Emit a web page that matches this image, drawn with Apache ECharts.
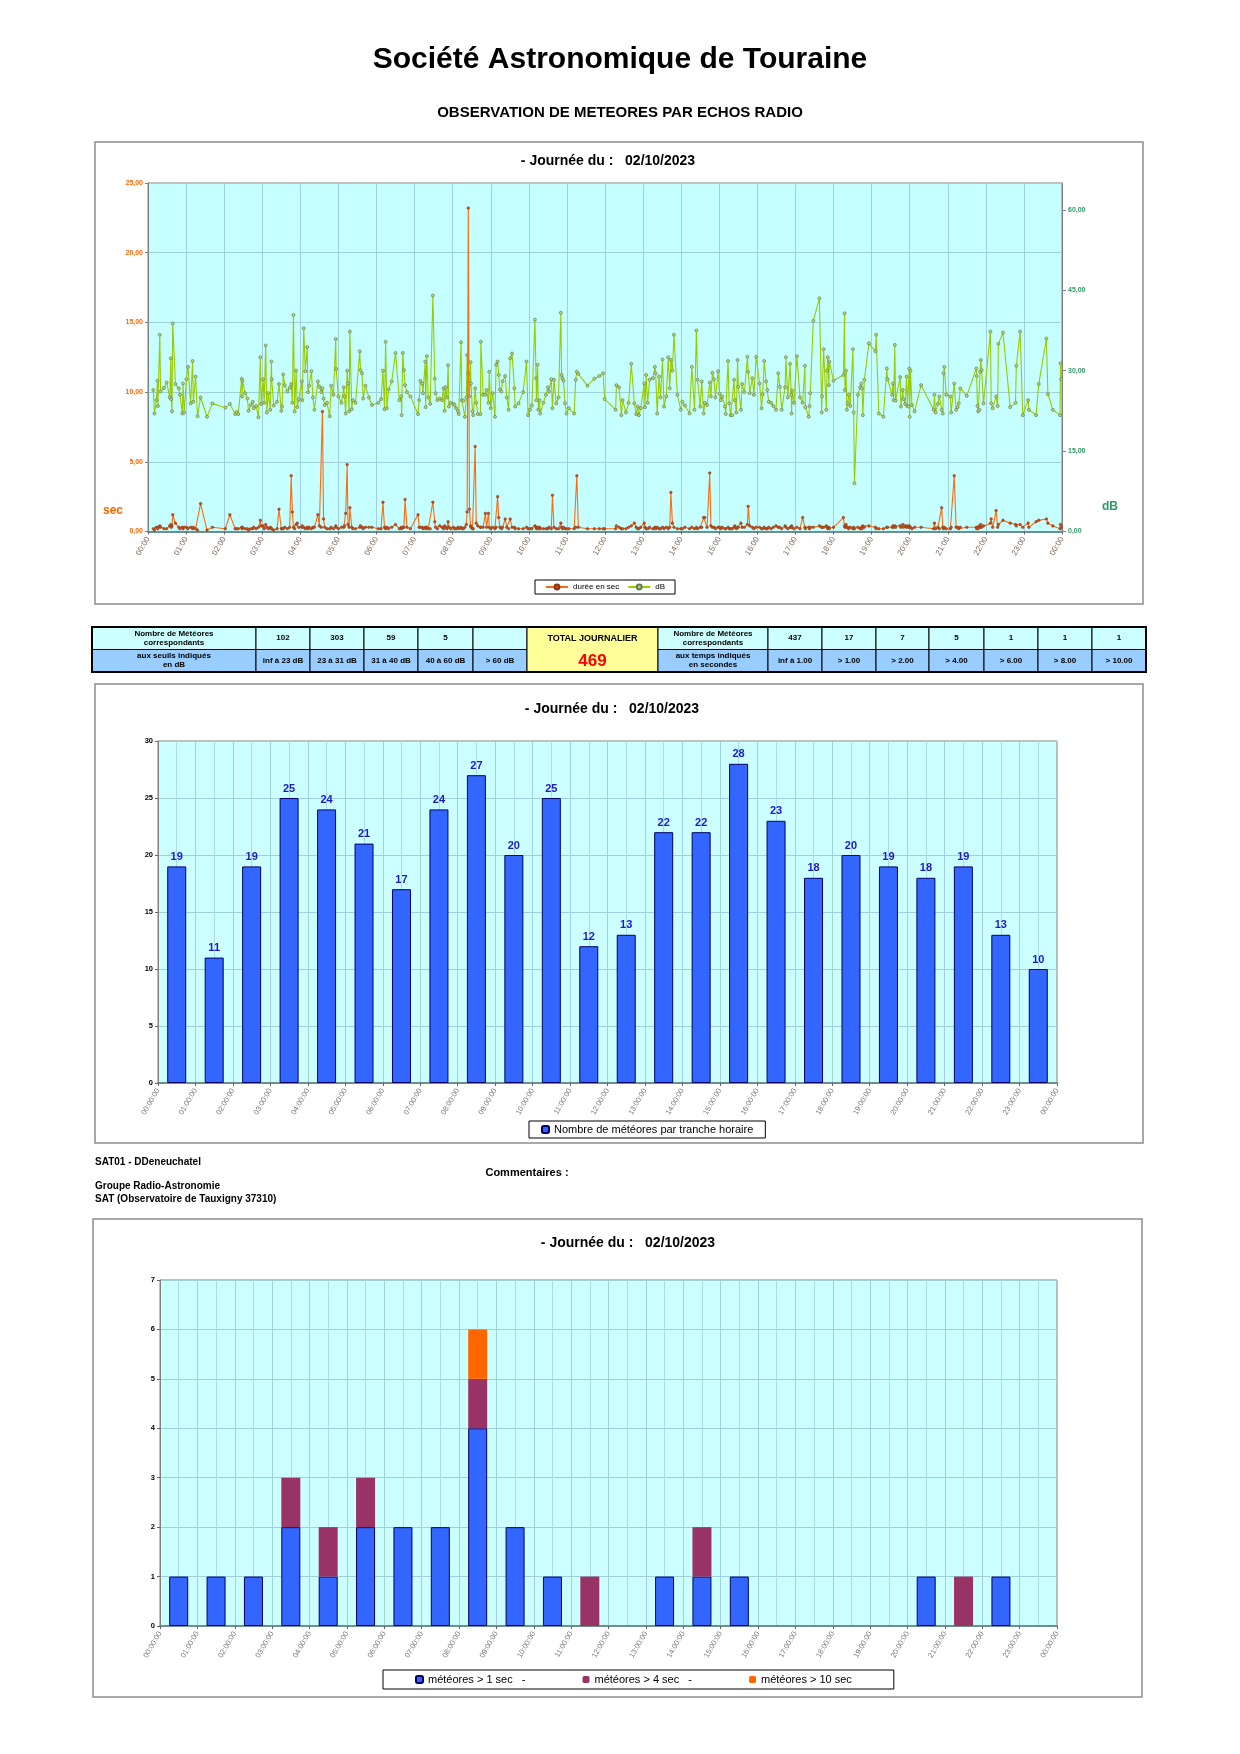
<!DOCTYPE html>
<html lang="fr">
<head>
  <meta charset="UTF-8">
  <title>Société Astronomique de Touraine - échos radio</title>
  <script src="https://cdn.jsdelivr.net/npm/echarts@6/dist/echarts.min.js"></script>
  <style>
    html, body { margin: 0; padding: 0; background: #fff; }
    #page { width: 1240px; height: 1754px; }
  </style>
</head>
<body>
<div id="page"></div>
<script>
  // --- données ---
  var obsDate = '02/10/2023';

  // [heure décimale, durée en sec, niveau en dB] pour chaque écho
  var echoes = [
    [0.14,0.2,26.4],[0.17,0.1,22.0],[0.22,0.3,24.5],[0.25,0.3,28.1],[0.26,0.2,23.4],[0.31,0.4,36.7],[0.33,0.3,26.1],[0.42,0.2,26.8],[0.49,0.2,27.8],[0.57,0.4,25.0],
    [0.60,0.5,32.3],[0.61,0.3,24.7],[0.63,0.4,22.4],[0.65,1.2,38.8],[0.72,0.6,27.5],[0.81,0.3,26.7],[0.84,0.2,25.5],[0.90,0.3,22.0],[0.92,0.2,27.6],[0.95,0.3,22.2],
    [1.01,0.3,28.4],[1.05,0.2,30.7],[1.12,0.3,23.9],[1.17,0.2,31.8],[1.19,0.3,24.2],[1.25,0.2,28.9],[1.30,0.1,21.5],[1.38,2.0,25.0],[1.55,0.1,21.4],[1.69,0.3,23.9],
    [2.03,0.2,23.1],[2.15,1.2,23.8],[2.29,0.2,21.9],[2.33,0.2,22.3],[2.37,0.2,21.9],[2.46,0.3,28.5],[2.47,0.2,25.2],[2.48,0.3,28.1],[2.55,0.2,25.8],[2.61,0.2,24.8],
    [2.64,0.1,22.5],[2.70,0.2,23.6],[2.75,0.2,24.2],[2.78,0.3,23.0],[2.84,0.2,23.4],[2.90,0.3,21.3],[2.95,0.8,32.5],[2.97,0.4,23.8],
    [3.02,0.4,28.4],[3.05,0.2,24.0],[3.09,0.5,34.7],[3.12,0.3,22.2],[3.16,0.2,25.8],[3.21,0.3,22.7],[3.24,0.2,31.7],[3.25,0.2,28.4],[3.30,0.1,23.5],[3.39,0.2,24.2],
    [3.44,1.6,27.5],[3.50,0.2,22.5],[3.52,0.2,23.3],[3.55,0.2,29.3],[3.59,0.3,27.3],[3.66,0.2,26.1],[3.72,0.3,26.8],[3.76,4.0,27.5],[3.79,1.4,24.0],[3.82,0.3,40.4],
    [3.85,0.2,22.4],[3.89,0.5,30.0],[3.92,0.6,23.2],[3.96,0.3,24.6],
    [4.04,0.3,28.0],[4.05,0.4,24.5],[4.09,0.3,37.9],[4.13,0.2,29.9],[4.18,0.3,34.4],[4.20,0.2,26.0],[4.23,0.3,27.2],[4.29,0.2,29.9],[4.33,0.3,25.0],[4.37,0.3,22.7],
    [4.46,1.2,28.0],[4.50,0.4,27.0],[4.55,0.3,26.0],[4.58,8.6,26.7],[4.61,0.9,24.8],[4.64,0.3,23.6],[4.70,0.2,24.0],[4.77,0.2,21.5],[4.81,0.3,27.2],[4.87,0.2,25.5],
    [4.93,0.4,35.9],[4.94,0.3,30.3],
    [5.00,0.2,25.2],[5.08,0.3,24.0],[5.14,0.3,26.9],[5.16,0.4,25.2],[5.19,1.3,22.0],[5.23,4.8,30.0],[5.25,0.5,27.6],[5.28,0.3,22.4],[5.30,1.7,37.3],[5.35,0.3,22.8],
    [5.38,0.2,24.5],[5.45,0.2,24.0],[5.56,0.3,33.6],[5.58,0.4,30.1],[5.62,0.3,29.5],[5.65,0.2,24.8],[5.71,0.3,27.2],[5.80,0.3,25.0],[5.88,0.3,23.6],
    [6.05,0.2,24.0],[6.12,0.2,24.7],[6.17,2.1,30.0],[6.21,0.3,22.8],[6.24,0.2,35.4],[6.27,0.3,23.0],[6.32,0.2,26.5],[6.40,0.3,28.0],[6.50,0.5,33.3],[6.60,0.2,24.5],
    [6.65,0.3,25.2],[6.66,0.2,21.7],[6.69,0.3,33.3],[6.72,0.3,30.1],[6.75,2.3,27.3],[6.80,0.3,26.0],[6.89,0.2,25.2],
    [7.09,1.2,21.9],[7.12,0.3,24.5],[7.15,0.3,28.1],[7.20,0.3,27.6],[7.22,0.2,25.8],[7.28,0.3,31.7],[7.29,0.2,23.2],[7.32,0.3,32.7],[7.36,0.2,25.0],[7.41,0.2,23.8],
    [7.48,2.1,44.0],[7.53,0.7,28.5],[7.55,0.3,25.8],[7.60,0.2,24.5],[7.66,0.4,24.8],[7.72,0.3,24.5],[7.76,0.2,26.7],[7.79,0.4,22.5],[7.81,0.3,26.9],[7.85,0.2,25.0],
    [7.88,0.7,31.0],[7.90,0.3,23.3],[7.95,0.2,24.0],
    [8.02,0.3,23.8],[8.05,0.2,23.6],[8.09,0.2,23.0],[8.14,0.3,22.4],[8.16,0.2,21.9],[8.22,0.3,35.3],[8.24,0.2,24.5],[8.28,0.2,24.4],[8.32,0.3,21.4],[8.36,0.5,25.0],
    [8.38,1.4,32.9],[8.41,23.2,29.5],[8.44,1.6,25.2],[8.47,0.4,31.6],[8.48,0.3,27.6],[8.52,0.2,22.4],[8.54,0.2,21.7],[8.59,6.1,26.7],[8.62,0.6,24.0],[8.66,0.4,21.9],
    [8.73,0.3,21.9],[8.74,0.3,35.4],[8.80,0.3,25.5],[8.86,1.3,25.5],[8.89,0.3,26.4],[8.94,1.3,24.0],[8.96,0.3,29.8],
    [9.00,0.2,23.0],[9.05,0.3,25.8],[9.11,0.2,21.4],[9.14,0.3,31.1],[9.18,2.5,31.7],[9.21,1.0,29.2],[9.24,0.3,26.5],[9.28,0.2,26.1],[9.31,0.3,28.0],[9.38,0.9,29.0],
    [9.42,0.3,25.0],[9.47,0.2,22.7],[9.51,0.9,32.3],[9.56,0.3,33.2],[9.62,0.3,26.7],[9.64,0.2,23.3],[9.73,0.2,23.9],[9.85,0.2,26.0],[9.94,0.3,31.7],[9.98,0.2,21.7],
    [10.03,0.2,22.7],[10.08,0.2,23.5],[10.16,0.4,39.5],[10.19,0.3,28.6],[10.20,0.2,24.5],[10.23,0.3,31.1],[10.25,0.2,22.7],[10.28,0.3,24.5],[10.30,0.2,22.0],[10.38,0.2,24.0],
    [10.45,0.2,25.5],[10.50,0.2,26.9],[10.53,0.3,26.1],[10.59,0.2,28.4],[10.62,2.6,23.0],[10.66,0.3,28.3],[10.72,0.2,23.9],[10.78,0.2,25.0],[10.84,0.6,40.8],[10.86,0.3,29.2],
    [10.88,0.2,28.6],[10.91,0.3,28.1],[10.95,0.2,23.9],[10.99,0.2,22.0],
    [11.05,0.2,23.0],[11.19,0.2,22.0],[11.23,0.3,28.3],[11.26,4.0,29.8],[11.30,0.3,29.4],[11.54,0.2,27.2],[11.72,0.2,28.5],[11.85,0.2,29.0],[11.95,0.2,29.5],[11.99,0.2,24.7],
    [12.28,0.2,22.7],[12.30,0.4,27.3],[12.37,0.3,26.9],[12.43,0.2,21.7],[12.46,0.2,24.5],[12.55,0.2,22.2],[12.62,0.3,24.0],[12.69,0.4,31.3],[12.77,0.6,23.9],[12.82,0.3,21.9],
    [12.86,0.2,23.3],[12.89,0.2,21.7],[12.94,0.3,23.0],
    [13.03,0.6,27.6],[13.05,0.3,23.2],[13.08,0.2,29.2],[13.12,0.2,24.0],[13.17,0.3,28.3],[13.26,0.2,28.6],[13.31,0.3,30.7],[13.33,0.2,29.5],[13.37,0.3,22.0],[13.42,0.2,28.9],
    [13.46,0.2,25.0],[13.51,0.3,32.1],[13.55,0.2,23.3],[13.61,0.3,25.2],[13.66,0.2,32.5],[13.70,0.3,26.7],[13.73,2.8,32.0],[13.77,0.6,30.0],[13.81,0.3,36.7],[13.90,0.2,25.5],
    [13.99,0.2,22.7],
    [14.03,0.2,24.2],[14.10,0.3,23.5],[14.22,0.2,22.0],[14.28,0.3,30.7],[14.35,0.2,22.7],[14.40,0.3,37.5],[14.43,0.2,28.3],[14.50,0.3,23.3],[14.54,0.3,28.0],[14.59,1.0,22.0],
    [14.62,1.0,24.0],[14.68,0.3,23.6],[14.75,4.2,27.8],[14.78,0.4,25.2],[14.82,0.3,29.6],[14.86,0.3,28.4],[14.90,0.2,25.0],[14.97,0.3,29.9],
    [15.01,0.3,25.7],[15.04,0.2,24.5],[15.08,0.3,25.2],[15.15,0.2,23.3],[15.17,0.2,21.9],[15.23,0.3,31.8],[15.26,0.2,23.9],[15.30,0.2,21.7],[15.34,0.2,21.7],[15.39,0.3,28.3],
    [15.41,0.4,24.5],[15.45,0.2,22.2],[15.48,0.3,32.0],[15.50,0.3,27.0],[15.57,0.6,22.7],[15.60,0.3,27.5],[15.66,0.3,26.0],[15.74,0.5,32.6],[15.76,1.8,29.8],[15.80,0.4,25.8],
    [15.87,0.3,28.6],[15.91,0.2,25.5],[15.97,0.3,32.6],
    [16.06,0.3,27.6],[16.11,0.2,23.0],[16.14,0.2,25.6],[16.18,0.3,31.8],[16.23,0.2,28.0],[16.26,0.2,26.4],[16.30,0.3,24.2],[16.36,0.2,24.0],[16.42,0.3,23.4],[16.49,0.4,22.7],
    [16.55,0.3,29.5],[16.59,0.3,27.0],[16.64,0.2,22.7],[16.73,0.4,26.9],[16.75,0.3,32.5],[16.80,0.2,25.0],[16.86,0.3,31.3],[16.89,0.3,25.5],[16.90,0.4,22.0],[16.91,0.3,26.3],
    [16.96,0.2,24.0],
    [17.04,0.3,32.7],[17.12,0.2,25.0],[17.19,1.0,24.0],[17.25,0.3,30.9],[17.26,0.2,23.2],[17.35,0.3,21.4],[17.37,0.2,23.4],[17.39,0.3,25.8],[17.47,0.3,39.3],[17.63,0.4,43.5],
    [17.69,0.3,22.2],[17.70,0.3,25.2],[17.74,0.3,34.0],[17.81,0.4,22.7],[17.83,0.3,30.0],[17.85,0.2,32.5],[17.88,0.3,27.3],[17.89,0.2,31.7],
    [18.00,0.3,28.1],[18.26,1.0,29.2],[18.29,0.4,40.7],[18.30,0.3,26.4],[18.33,0.5,30.0],[18.35,0.3,22.7],[18.37,0.3,23.9],[18.40,0.2,25.5],[18.44,0.3,23.4],[18.51,0.2,34.0],
    [18.53,0.3,22.2],[18.55,0.2,9.0],[18.64,0.3,25.5],[18.70,0.2,26.9],[18.73,0.3,27.6],[18.75,0.2,26.7],[18.77,0.4,21.7],[18.81,0.3,28.3],[18.93,0.4,35.1],
    [19.10,0.3,33.6],[19.12,0.2,36.7],[19.19,0.2,22.0],[19.31,0.2,21.4],[19.40,0.3,30.4],[19.42,0.3,28.4],[19.54,0.3,25.5],[19.56,0.4,27.6],[19.58,0.3,24.5],[19.61,0.4,34.8],
    [19.63,0.3,24.4],[19.75,0.4,28.8],[19.77,0.3,23.3],[19.82,0.5,26.4],[19.84,0.3,24.7],[19.88,0.4,23.8],[19.92,0.3,28.9],[19.94,0.4,23.4],[19.97,0.3,23.3],[19.99,0.4,30.4],
    [20.00,0.3,21.4],[20.02,0.3,30.0],[20.06,0.2,23.6],[20.13,0.3,22.4],[20.30,0.3,27.3],[20.63,0.2,22.7],[20.65,0.6,25.5],[20.68,0.2,22.2],[20.74,0.3,23.8],[20.78,0.2,25.2],
    [20.84,1.7,22.7],[20.87,0.3,22.0],[20.89,0.2,29.5],[20.91,0.3,30.7],[20.96,0.2,25.5],
    [21.07,0.2,25.2],[21.09,0.3,22.2],[21.17,4.0,27.6],[21.22,0.3,22.7],[21.26,0.3,23.2],[21.29,0.2,23.9],[21.33,0.3,26.7],[21.50,0.3,25.3],[21.75,0.3,30.4],[21.76,0.2,29.0],
    [21.78,0.3,23.4],[21.80,0.2,22.4],[21.83,0.4,22.7],[21.85,0.3,29.8],[21.87,0.5,32.0],[21.89,0.3,30.1],[21.94,0.4,23.9],
    [22.12,0.6,37.3],[22.14,0.9,23.9],[22.18,0.3,23.0],[22.27,1.5,25.2],[22.31,0.3,23.4],[22.33,0.5,35.0],[22.45,0.8,37.1],[22.64,0.6,23.2],[22.78,0.5,24.0],[22.80,0.4,30.9],
    [22.90,0.5,37.3],[22.97,0.3,21.7],
    [23.11,0.6,24.5],[23.13,0.3,22.7],[23.32,0.7,21.7],[23.39,0.8,27.5],[23.59,0.9,36.0],[23.63,0.6,25.6],[23.76,0.4,22.7],[23.95,0.2,21.7],[23.96,0.5,31.4],[23.98,0.3,28.4]
  ];

  // nombre de météores par tranche horaire (00h .. 23h)
  var hourlyCounts = [19, 11, 19, 25, 24, 21, 17, 24, 27, 20, 25, 12, 13, 22, 22, 28, 23, 18, 20, 19, 18, 19, 13, 10];

  // météores longs par tranche horaire
  var over1Sec  = [1, 1, 1, 2, 1, 2, 2, 2, 4, 2, 1, 0, 0, 1, 1, 1, 0, 0, 0, 0, 1, 0, 1, 0];
  var over4Sec  = [0, 0, 0, 1, 1, 1, 0, 0, 1, 0, 0, 1, 0, 0, 1, 0, 0, 0, 0, 0, 0, 1, 0, 0];
  var over10Sec = [0, 0, 0, 0, 0, 0, 0, 0, 1, 0, 0, 0, 0, 0, 0, 0, 0, 0, 0, 0, 0, 0, 0, 0];

  // tableau récapitulatif
  var dbCounts  = ['102', '303', '59', '5', ''];
  var dbBins    = ['inf à 23 dB', '23 à 31 dB', '31 à 40 dB', '40 à 60 dB', '> 60 dB'];
  var secCounts = ['437', '17', '7', '5', '1', '1', '1'];
  var secBins   = ['inf à 1.00', '> 1.00', '> 2.00', '> 4.00', '> 6.00', '> 8.00', '> 10.00'];
  var dailyTotal = 469;

  var FONT = '"Liberation Sans", Arial, sans-serif';

  function pad2(n) { return (n < 10 ? '0' : '') + n; }
  function comma2(v) { return v.toFixed(2).replace('.', ','); }
  var hourNames = hourlyCounts.map(function (v, i) { return pad2(i) + ':00:00'; });

  // --- éléments graphiques : cadres, titres, tableau ---
  var g = [];

  function txt(x, y, text, size, opts) {
    opts = opts || {};
    g.push({
      type: 'text', x: x, y: y, z: 10,
      style: {
        text: text,
        font: (opts.weight || 'bold') + ' ' + size + 'px ' + FONT,
        fill: opts.color || '#000',
        textAlign: opts.align || 'center',
        textVerticalAlign: 'middle',
        lineHeight: opts.lineHeight || size + 2
      }
    });
  }
  function box(x, y, w, h, fill, stroke, lw) {
    g.push({
      type: 'rect', z: 1,
      shape: { x: x, y: y, width: w, height: h },
      style: { fill: fill || 'none', stroke: stroke || '#000', lineWidth: lw || 1 }
    });
  }

  txt(620, 60, 'Société Astronomique de Touraine', 30);
  txt(620, 113, 'OBSERVATION DE METEORES PAR ECHOS RADIO', 15);

  box(95, 142, 1048, 462, 'none', '#8c8c8c', 1.5);
  box(95, 684, 1048, 459, 'none', '#8c8c8c', 1.5);
  box(93, 1219, 1049, 478, 'none', '#8c8c8c', 1.5);

  txt(608, 161, '- Journée du :   ' + obsDate, 14);
  txt(612, 709, '- Journée du :   ' + obsDate, 14);
  txt(628, 1243, '- Journée du :   ' + obsDate, 14);

  txt(113, 511, 'sec', 12, { color: '#ff6600' });
  txt(1110, 507, 'dB', 12, { color: '#339966' });

  txt(95, 1162, 'SAT01 - DDeneuchatel', 10, { align: 'left' });
  txt(527, 1173, 'Commentaires :', 11);
  txt(95, 1186, 'Groupe Radio-Astronomie', 10, { align: 'left' });
  txt(95, 1199, 'SAT (Observatoire de Tauxigny 37310)', 10, { align: 'left' });

  // tableau
  var colX = [92, 256, 310, 364, 418, 473, 527, 658, 768, 822, 876, 929, 984, 1038, 1092, 1146];
  var rowY = [627, 649.5, 672];
  var cyan = '#ccffff', blue = '#99ccff';
  function cell(c, r, fill, text, size, color) {
    var x0 = colX[c], x1 = colX[c + 1], y0 = rowY[r], y1 = rowY[r + 1];
    box(x0, y0, x1 - x0, y1 - y0, fill, '#000', 1);
    if (text !== '') txt((x0 + x1) / 2, (y0 + y1) / 2, text, size || 8, { color: color, lineHeight: 9 });
  }
  cell(0, 0, cyan, 'Nombre de Météores\ncorrespondants');
  cell(0, 1, blue, 'aux seuils indiqués\nen dB');
  dbCounts.forEach(function (v, i) { cell(1 + i, 0, cyan, v); });
  dbBins.forEach(function (v, i) { cell(1 + i, 1, blue, v); });
  box(colX[6], rowY[0], colX[7] - colX[6], rowY[2] - rowY[0], '#ffff99', '#000', 1);
  txt((colX[6] + colX[7]) / 2, 638.5, 'TOTAL JOURNALIER', 9);
  txt((colX[6] + colX[7]) / 2, 661, String(dailyTotal), 17, { color: '#ff0000' });
  cell(7, 0, cyan, 'Nombre de Météores\ncorrespondants');
  cell(7, 1, blue, 'aux temps indiqués\nen secondes');
  secCounts.forEach(function (v, i) { cell(8 + i, 0, cyan, v); });
  secBins.forEach(function (v, i) { cell(8 + i, 1, blue, v); });
  box(92, 627, 1054, 45, 'none', '#000', 2);

  // --- axes ---
  var gridLine = { show: true, lineStyle: { color: '#9fd0e0', width: 1 } };
  function hourAxis(gridIndex, withSeconds, minor) {
    return {
      type: 'value', gridIndex: gridIndex, min: 0, max: 24, interval: 1,
      axisLine: { show: true, lineStyle: { color: '#6f8f8f', width: 2 } },
      axisTick: { show: true, length: 3, lineStyle: { color: '#666' } },
      axisLabel: {
        rotate: 60, fontSize: withSeconds ? 7.5 : 8, color: withSeconds ? '#777' : '#806a58',
        fontFamily: FONT, margin: 6, hideOverlap: false,
        formatter: function (v) { return pad2(v % 24) + (withSeconds ? ':00:00' : ':00'); }
      },
      splitLine: gridLine,
      minorTick: { show: false, splitNumber: 2 },
      minorSplitLine: { show: !!minor, lineStyle: { color: '#a8dcea', width: 1 } }
    };
  }
  function countAxis(gridIndex, max, interval) {
    return {
      type: 'value', gridIndex: gridIndex, min: 0, max: max, interval: interval,
      axisLine: { show: true, lineStyle: { color: '#808080' } },
      axisTick: { show: true, length: 3, lineStyle: { color: '#666' } },
      axisLabel: { fontSize: 7.5, fontWeight: 'bold', color: '#000', fontFamily: FONT, margin: 5 },
      splitLine: gridLine
    };
  }
  // axe de catégories invisible portant les barres empilées
  var stackAxis = { type: 'category', gridIndex: 2, data: hourNames, boundaryGap: true, show: false };

  function blankZero(v) { return v === 0 ? '-' : v; }

  var option = {
    animation: false,
    backgroundColor: '#fff',
    graphic: { elements: g },
    grid: [
      { left: 148, top: 183, width: 914, height: 348.5, show: true, backgroundColor: '#c6ffff', borderColor: '#808080', borderWidth: 1, outerBoundsMode: 'none', containLabel: false },
      { left: 158, top: 741, width: 899, height: 342, show: true, backgroundColor: '#ccffff', borderColor: '#808080', borderWidth: 1, outerBoundsMode: 'none', containLabel: false },
      { left: 160, top: 1280, width: 897, height: 346, show: true, backgroundColor: '#ccffff', borderColor: '#808080', borderWidth: 1, outerBoundsMode: 'none', containLabel: false }
    ],
    xAxis: [hourAxis(0, false, false), hourAxis(1, true, true), hourAxis(2, true, true), stackAxis],
    yAxis: [
      {
        type: 'value', gridIndex: 0, position: 'left', min: 0, max: 25, interval: 5,
        axisLine: { show: true, lineStyle: { color: '#808080' } },
        axisTick: { show: true, length: 3, lineStyle: { color: '#808080' } },
        axisLabel: { fontSize: 7, fontWeight: 'bold', color: '#ff6600', fontFamily: FONT, margin: 5, formatter: comma2 },
        splitLine: gridLine
      },
      {
        type: 'value', gridIndex: 0, position: 'right', min: 0, max: 65, interval: 15,
        axisLine: { show: true, lineStyle: { color: '#808080' } },
        axisTick: { show: true, length: 4, lineStyle: { color: '#808080' } },
        axisLabel: { fontSize: 7, fontWeight: 'bold', color: '#339966', fontFamily: FONT, margin: 6, formatter: comma2, showMaxLabel: false },
        splitLine: { show: false }
      },
      countAxis(1, 30, 5),
      countAxis(2, 7, 1)
    ],
    legend: [
      {
        data: ['durée en sec', 'dB'], left: 535, top: 580, orient: 'horizontal',
        padding: [3, 10], itemGap: 8, itemWidth: 22, itemHeight: 6,
        borderColor: '#000', borderWidth: 1, backgroundColor: '#fff',
        textStyle: { fontSize: 8, fontFamily: FONT, color: '#000' }
      },
      {
        data: ['Nombre de météores par tranche horaire'], left: 529, top: 1121,
        padding: [3, 12], itemWidth: 7, itemHeight: 7,
        borderColor: '#000', borderWidth: 1, backgroundColor: '#fff',
        textStyle: { fontSize: 11, fontFamily: FONT, color: '#000' }
      },
      {
        data: ['météores > 1 sec   -', 'météores > 4 sec   -', 'météores > 10 sec'], left: 383, top: 1670,
        padding: [4, 42, 4, 32], itemGap: 57, itemWidth: 7, itemHeight: 7,
        borderColor: '#000', borderWidth: 1, backgroundColor: '#fff',
        textStyle: { fontSize: 11, fontFamily: FONT, color: '#000' }
      }
    ],
    series: [
      {
        name: 'dB', type: 'line', xAxisIndex: 0, yAxisIndex: 1, z: 3,
        data: echoes.map(function (e) { return [e[0], e[2]]; }),
        symbol: 'circle', symbolSize: 3, showSymbol: true,
        lineStyle: { color: '#99cc00', width: 1.1 },
        itemStyle: { color: '#b5dc6a', borderColor: '#667a55', borderWidth: 0.7 }
      },
      {
        name: 'durée en sec', type: 'line', xAxisIndex: 0, yAxisIndex: 0, z: 4,
        data: echoes.map(function (e) { return [e[0], e[1]]; }),
        symbol: 'circle', symbolSize: 2.6, showSymbol: true,
        lineStyle: { color: '#ff6a10', width: 1.1 },
        itemStyle: { color: '#c4501c', borderColor: '#8a3414', borderWidth: 0.5 }
      },
      {
        name: 'Nombre de météores par tranche horaire', type: 'bar', xAxisIndex: 1, yAxisIndex: 2,
        data: hourlyCounts.map(function (v, i) { return [i + 0.5, v]; }),
        barWidth: 19,
        itemStyle: { color: '#3366ff', borderColor: '#000066', borderWidth: 1 },
        label: { show: true, position: 'top', distance: 4, color: '#1a1acc', fontSize: 11, fontWeight: 'bold', fontFamily: FONT,
          formatter: function (p) { return p.value[1]; } }
      },
      {
        name: 'météores > 1 sec   -', type: 'bar', stack: 'longs', xAxisIndex: 3, yAxisIndex: 3,
        data: over1Sec.map(blankZero),
        barWidth: 19,
        itemStyle: { color: '#3366ff', borderColor: '#000066', borderWidth: 1 }
      },
      {
        name: 'météores > 4 sec   -', type: 'bar', stack: 'longs', xAxisIndex: 3, yAxisIndex: 3,
        data: over4Sec.map(blankZero),
        barWidth: 19,
        itemStyle: { color: '#993366' }
      },
      {
        name: 'météores > 10 sec', type: 'bar', stack: 'longs', xAxisIndex: 3, yAxisIndex: 3,
        data: over10Sec.map(blankZero),
        barWidth: 19,
        itemStyle: { color: '#ff6600' }
      }
    ]
  };

  var chart = echarts.init(document.getElementById('page'), null, { renderer: 'canvas', width: 1240, height: 1754 });
  chart.setOption(option);
</script>
</body>
</html>
